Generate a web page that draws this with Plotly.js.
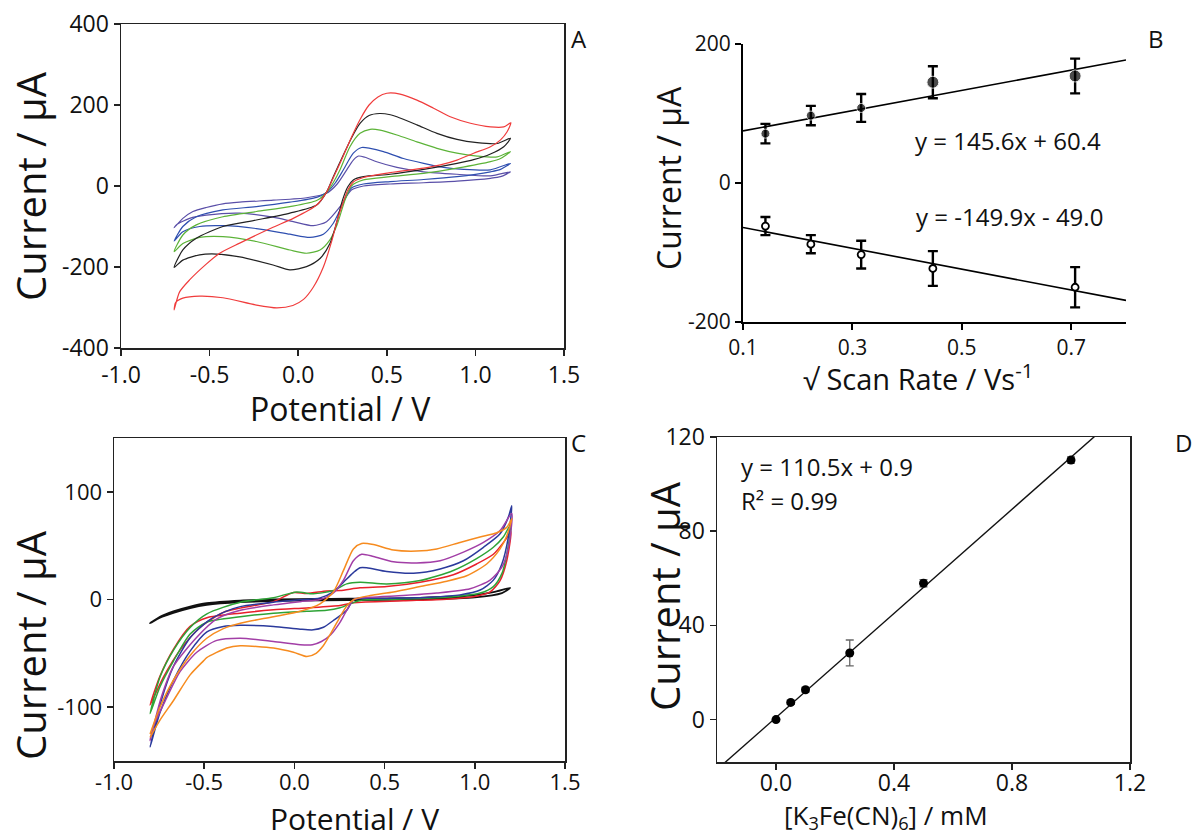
<!DOCTYPE html>
<html>
<head>
<meta charset="utf-8">
<script src="https://cdn.plot.ly/plotly-3.0.1.min.js"></script>
<style>html,body{margin:0;padding:0;background:#fff;}#chart{width:1196px;height:839px;}</style>
</head>
<body>
<div id="chart"></div>
<script>
// ---------------- Panel A: CVs at different scan rates ----------------
const aRedE = [-0.70,-0.67,-0.613,-0.519,-0.443,-0.33,-0.142,-0.028,0.104,0.16,0.20,0.25,0.30,0.35,0.40,0.45,0.50,0.575,0.67,0.764,0.858,0.972,1.085,1.16,1.20,
  1.179,1.142,1.085,0.99,0.896,0.802,0.708,0.519,0.368,0.311,0.28,0.25,0.22,0.19,0.142,0.085,0.03,-0.03,-0.12,-0.236,-0.425,-0.556,-0.651,-0.692,-0.70];
const aRedI = [-306,-262,-232,-193,-166,-141,-102,-80,-47,-15,22,70,120,165,200,220,229,227,212,192,171,155,146,146,156,
  134,114,97,81,64,52,44,33,21,10,-10,-45,-85,-135,-200,-250,-280,-295,-301,-294,-276,-272,-277,-288,-306];

const aBlackE = [-0.70,-0.651,-0.575,-0.425,-0.236,-0.047,0.104,0.16,0.20,0.25,0.30,0.35,0.40,0.46,0.52,0.557,0.67,0.783,0.896,1.01,1.123,1.198,
  1.16,1.085,0.99,0.896,0.708,0.519,0.368,0.311,0.28,0.25,0.217,0.179,0.123,0.047,-0.047,-0.142,-0.33,-0.462,-0.556,-0.651,-0.70];
const aBlackI = [-201,-158,-129,-100,-84,-67,-47,-15,25,72,118,155,174,179,176,171,151,130,115,107,105,118,
  97,79,65,56,41,29,23,15,-2,-35,-90,-142,-179,-199,-207,-195,-175,-168,-170,-183,-201];

const aGreenE = [-0.70,-0.651,-0.575,-0.425,-0.236,-0.047,0.104,0.16,0.20,0.236,0.292,0.349,0.406,0.462,0.557,0.67,0.783,0.896,1.01,1.123,1.198,
  1.142,1.085,0.896,0.708,0.519,0.368,0.30,0.26,0.22,0.179,0.123,0.047,-0.047,-0.236,-0.425,-0.556,-0.651,-0.70];
const aGreenI = [-162,-121,-96,-76,-63,-51,-36,-16,10,40,97,130,140,138,126,109,93,81,74,72,85,
  68,60,44,31,23,15,0,-40,-95,-133,-158,-166,-158,-137,-125,-127,-142,-162];

const aBlueE = [-0.70,-0.651,-0.575,-0.425,-0.236,-0.047,0.104,0.16,0.21,0.255,0.311,0.358,0.406,0.481,0.594,0.708,0.821,0.934,1.085,1.198,
  1.142,1.085,0.896,0.708,0.519,0.368,0.30,0.26,0.236,0.198,0.142,0.066,-0.047,-0.236,-0.425,-0.556,-0.651,-0.70];
const aBlueI = [-136,-100,-76,-59,-51,-40,-28,-16,8,40,81,95,93,85,68,56,46,41,40,56,
  41,35,23,16,11,5,-5,-35,-59,-92,-119,-127,-119,-105,-98,-100,-113,-136];

const aPurpleE = [-0.70,-0.651,-0.594,-0.519,-0.425,-0.33,-0.14,0.047,0.16,0.22,0.274,0.311,0.340,0.377,0.443,0.557,0.708,0.896,1.085,1.198,
  1.142,1.085,0.896,0.708,0.519,0.368,0.30,0.236,0.16,0.085,-0.028,-0.142,-0.33,-0.519,-0.613,-0.688,-0.70];
const aPurpleI = [-103,-80,-63,-53,-44,-40,-35,-29,-18,5,40,64,74,71,60,46,35,29,25,35,
  23,19,12,8,5,0,-10,-51,-88,-98,-88,-77,-67,-72,-80,-96,-103];

// ---------------- Panel B: peak current vs sqrt(scan rate) ----------------
const bSqrtRate = [0.141, 0.224, 0.316, 0.447, 0.707];
const bAnodic = [71, 97, 108, 145, 154];
const bAnodicErr = [14, 14, 20, 23, 25];
const bCathodic = [-62, -88, -103, -123, -150];
const bCathodicErr = [13, 13, 20, 25, 29];
const bFitX = [0.1, 0.8];
const bFitAnodic = [75.0, 176.9];      // y = 145.6x + 60.4
const bFitCathodic = [-64.0, -168.9];  // y = -149.9x - 49.0

// ---------------- Panel C: CVs at different concentrations ----------------
const cBlackE = [-0.80,-0.745,-0.671,-0.578,-0.486,-0.30,-0.116,0.142,0.697,0.974,1.103,1.196,
  1.15,1.0,0.7,0.3,0.0,-0.30,-0.486,-0.578,-0.671,-0.745,-0.80];
const cBlackI = [-22,-16,-11,-6.5,-3.4,-1,0,0.6,1.5,3.7,6.8,10.8,
  6,2,0.2,-0.5,-1,-2.5,-5,-8,-12.5,-17,-22];

const cGreenE = [-0.80,-0.745,-0.67,-0.578,-0.485,-0.30,-0.116,0.013,0.105,0.216,0.29,0.364,0.512,0.697,0.881,1.01,1.103,1.158,1.20,
  1.177,1.15,1.103,1.03,0.881,0.697,0.512,0.364,0.253,0.179,0.069,-0.116,-0.30,-0.485,-0.578,-0.67,-0.745,-0.80];
const cGreenI = [-106,-72,-47,-26,-13.3,-2.5,1.7,7,5.3,8.3,14.5,16,14.5,17.6,27,38,48.5,58,70,
  42,24,12,6,2.5,0.9,0,-1,-7.7,-10,-10.9,-12.7,-16,-21,-32,-57,-81,-106];

const cRedE = [-0.80,-0.726,-0.634,-0.523,-0.394,-0.30,-0.116,-0.005,0.069,0.179,0.253,0.364,0.512,0.697,0.881,1.01,1.103,1.168,1.20,
  1.177,1.14,1.085,0.992,0.844,0.604,0.327,0.253,0.069,-0.116,-0.30,-0.485,-0.578,-0.67,-0.745,-0.80];
const cRedI = [-98,-72,-47,-26,-12,-8,-2,6.5,5.6,8,8.3,10.8,12,16,23,33,42,55,63,
  36,17.6,7,2.5,0.3,-1.2,-3,-5.6,-7.8,-9.6,-12.7,-17,-25,-46,-71,-98];

const cBlueE = [-0.80,-0.74,-0.67,-0.58,-0.48,-0.38,-0.30,-0.116,0.032,0.142,0.216,0.272,0.327,0.364,0.401,0.512,0.66,0.808,0.937,1.048,1.14,1.186,1.205,
  1.186,1.15,1.103,1.03,0.918,0.752,0.512,0.33,0.29,0.216,0.161,0.105,0.032,-0.116,-0.30,-0.394,-0.485,-0.578,-0.67,-0.745,-0.80];
const cBlueI = [-137,-95,-62,-36,-20,-11,-6.6,-2.5,-0.3,1.5,7,16,25,29.5,29.5,26,24.4,28.4,36,48.5,61,76.5,87,
  58,33,18,8.8,4.3,2.2,1,0,-10,-19.5,-25.8,-28.2,-27.6,-25,-24,-25,-30,-48,-75,-105,-137];

const cMagentaE = [-0.80,-0.74,-0.67,-0.541,-0.43,-0.30,-0.116,0.032,0.142,0.216,0.272,0.327,0.373,0.438,0.549,0.678,0.808,0.937,1.048,1.14,1.205,
  1.186,1.15,1.085,0.974,0.789,0.604,0.42,0.33,0.29,0.25,0.20,0.15,0.10,0.032,-0.116,-0.30,-0.43,-0.541,-0.634,-0.707,-0.782,-0.80];
const cMagentaI = [-131,-92,-62,-35,-18,-10,-5,-2,0,6,18,36,42,40,35,34,36,44,53,64,80,
  48,30,18,10,6,3.7,2,0,-10,-22,-33,-39,-42,-42,-39,-36,-38,-49,-67,-91,-118,-131];

const cOrangeE = [-0.80,-0.745,-0.671,-0.578,-0.486,-0.394,-0.30,-0.116,0.032,0.142,0.216,0.272,0.327,0.373,0.438,0.549,0.678,0.789,0.918,1.029,1.122,1.177,1.205,
  1.177,1.14,1.066,0.955,0.845,0.697,0.549,0.42,0.33,0.29,0.25,0.20,0.16,0.12,0.069,-0.005,-0.116,-0.30,-0.375,-0.486,-0.504,-0.578,-0.671,-0.745,-0.80];
const cOrangeI = [-125,-100,-75,-52,-36,-27,-22,-16,-11,-4,7,27,47,52,51,46,45,47,53,58,62,67,75,
  59,47,33,22,17,12,7,3.7,0,-6,-17,-32,-43,-50,-53,-49,-45,-43,-45,-54,-57,-70,-94,-112,-128];

// ---------------- Panel D: calibration ----------------
const dConc = [0, 0.05, 0.1, 0.25, 0.5, 1.0];
const dCurrent = [0, 7.3, 12.7, 28.3, 57.9, 110.2];
const dErr = [0.5, 0.8, 1.0, 5.5, 1.5, 1.3];
const dFitX = [-0.2, 1.2];
const dFitY = [-21.2, 133.5];  // y = 110.5x + 0.9

// tick labels
const cvXTicks = [-1, -0.5, 0, 0.5, 1, 1.5];
const cvXTickText = ['-1.0', '-0.5', '0.0', '0.5', '1.0', '1.5'];
const aYTicks = [-400, -200, 0, 200, 400];
const aYTickText = ['-400', '-200', '0', '200', '400'];
const bXTicks = [0.1, 0.3, 0.5, 0.7];
const bXTickText = ['0.1', '0.3', '0.5', '0.7'];
const bYTicks = [-200, 0, 200];
const bYTickText = ['-200', '0', '200'];
const cYTicks = [-100, 0, 100];
const cYTickText = ['-100', '0', '100'];
const dXTicks = [0, 0.4, 0.8, 1.2];
const dXTickText = ['0.0', '0.4', '0.8', '1.2'];
const dYTicks = [0, 40, 80, 120];
const dYTickText = ['0', '40', '80', '120'];

// ---------------- drawing ----------------
const FONT = 'Open Sans, Noto Sans, DejaVu Sans, sans-serif';
const W = 1196, H = 839;
const px = v => v / W;
const py = v => 1 - v / H;

function cv(E, I, color, xa, ya, w) {
  return {x: E, y: I, xaxis: xa, yaxis: ya, type: 'scatter', mode: 'lines',
    line: {color: color, width: w, shape: 'spline', smoothing: 0.7}, hoverinfo: 'skip', showlegend: false};
}

const traces = [
  cv(aPurpleE, aPurpleI, '#5a4fa8', 'x', 'y', 1.2),
  cv(aBlueE, aBlueI, '#2f4fb0', 'x', 'y', 1.2),
  cv(aGreenE, aGreenI, '#5cb338', 'x', 'y', 1.2),
  cv(aBlackE, aBlackI, '#222222', 'x', 'y', 1.2),
  cv(aRedE, aRedI, '#f03c3c', 'x', 'y', 1.2),

  {x: bFitX, y: bFitAnodic, xaxis: 'x2', yaxis: 'y2', mode: 'lines', line: {color: '#000', width: 1.6}, showlegend: false},
  {x: bFitX, y: bFitCathodic, xaxis: 'x2', yaxis: 'y2', mode: 'lines', line: {color: '#000', width: 1.6}, showlegend: false},
  {x: bSqrtRate, y: bAnodic, xaxis: 'x2', yaxis: 'y2', mode: 'markers',
    marker: {color: '#000', size: [9, 9, 9, 12, 12], symbol: 'circle'},
    error_y: {type: 'data', array: bAnodicErr, visible: true, color: '#000', thickness: 2.4, width: 5}, showlegend: false},
  {x: bSqrtRate, y: bCathodic, xaxis: 'x2', yaxis: 'y2', mode: 'markers',
    marker: {color: '#fff', size: 7, symbol: 'circle', line: {color: '#000', width: 1.8}},
    error_y: {type: 'data', array: bCathodicErr, visible: true, color: '#000', thickness: 2.4, width: 5}, showlegend: false},

  cv(cBlackE, cBlackI, '#111111', 'x3', 'y3', 1.8),
  cv(cRedE, cRedI, '#e8202a', 'x3', 'y3', 1.5),
  cv(cGreenE, cGreenI, '#2ea336', 'x3', 'y3', 1.5),
  cv(cBlueE, cBlueI, '#2b3a9c', 'x3', 'y3', 1.5),
  cv(cMagentaE, cMagentaI, '#a23ea6', 'x3', 'y3', 1.5),
  cv(cOrangeE, cOrangeI, '#f68b1f', 'x3', 'y3', 1.5),

  {x: dFitX, y: dFitY, xaxis: 'x4', yaxis: 'y4', mode: 'lines', line: {color: '#111', width: 1.4}, showlegend: false},
  {x: dConc, y: dCurrent, xaxis: 'x4', yaxis: 'y4', mode: 'markers',
    marker: {color: '#000', size: 9, symbol: 'circle'},
    error_y: {type: 'data', array: dErr, visible: true, color: '#666', thickness: 1.3, width: 4}, showlegend: false}
];

function axis(o) {
  return Object.assign({showgrid: false, zeroline: false, showline: true, linecolor: '#222', linewidth: 1.5,
    ticks: 'outside', ticklen: 6, tickwidth: 1.5, tickcolor: '#222', tickmode: 'array',
    tickfont: {family: FONT, size: 23, color: '#111'}, fixedrange: true}, o);
}

const layout = {
  width: W, height: H, margin: {l: 0, r: 0, t: 0, b: 0}, paper_bgcolor: '#fff', plot_bgcolor: '#fff',
  showlegend: false, font: {family: FONT, color: '#111'},
  xaxis: axis({domain: [px(121), px(564)], range: [-1, 1.5], anchor: 'y', mirror: true, tickvals: cvXTicks, ticktext: cvXTickText}),
  yaxis: axis({domain: [py(348), py(24)], range: [-400, 400], anchor: 'x', mirror: true, tickvals: aYTicks, ticktext: aYTickText}),
  xaxis2: axis({domain: [px(743), px(1126)], range: [0.1, 0.8], anchor: 'y2', linewidth: 2, tickwidth: 2, linecolor: '#000', tickcolor: '#000',
    tickvals: bXTicks, ticktext: bXTickText, tickfont: {family: FONT, size: 21, color: '#111'}}),
  yaxis2: axis({domain: [py(322), py(44)], range: [-200, 200], anchor: 'x2', linewidth: 2, tickwidth: 2, linecolor: '#000', tickcolor: '#000',
    tickvals: bYTicks, ticktext: bYTickText, tickfont: {family: FONT, size: 21, color: '#111'}}),
  xaxis3: axis({domain: [px(114), px(565)], range: [-1, 1.5], anchor: 'y3', mirror: true, tickvals: cvXTicks, ticktext: cvXTickText,
    tickfont: {family: FONT, size: 22, color: '#111'}, ticklabelstandoff: -5}),
  yaxis3: axis({domain: [py(761), py(438)], range: [-150, 150], anchor: 'x3', mirror: true, tickvals: cYTicks, ticktext: cYTickText,
    tickfont: {family: FONT, size: 22, color: '#111'}}),
  xaxis4: axis({domain: [px(717), px(1130)], range: [-0.2, 1.2], anchor: 'y4', mirror: true, tickvals: dXTicks, ticktext: dXTickText,
    ticklabelstandoff: -6}),
  yaxis4: axis({domain: [py(762), py(437)], range: [-18, 120], anchor: 'x4', mirror: true, tickvals: dYTicks, ticktext: dYTickText}),
  annotations: []
};

function label(text, x, y, size, opts) {
  return Object.assign({text: text, xref: 'paper', yref: 'paper', x: px(x), y: py(y), xanchor: 'center', yanchor: 'middle',
    showarrow: false, font: {family: FONT, size: size, color: '#111'}}, opts || {});
}

layout.annotations.push(
  // panel letters
  label('A', 579, 39, 24), label('B', 1156, 39, 24), label('C', 578, 442, 24), label('D', 1183, 442, 24),
  // axis titles
  label('Current / μA', 30, 186, 40, {textangle: -90}),
  label('Potential / V', 340, 408, 32),
  label('Current / μA', 668, 178, 32, {textangle: -90}),
  label('√ Scan Rate / Vs<sup>-1</sup>', 918, 377, 29),
  label('Current / μA', 30, 645, 40, {textangle: -90}),
  label('Potential / V', 354, 818, 30),
  label('Current / μA', 664, 596, 40, {textangle: -90}),
  label('[K<sub>3</sub>Fe(CN)<sub>6</sub>] / mM', 886, 816, 26),
  // equations
  label('y = 145.6x + 60.4', 1008, 141, 24),
  label('y = -149.9x - 49.0', 1009, 216, 24),
  label('y = 110.5x + 0.9', 739, 466, 24, {xanchor: 'left'}),
  label('R² = 0.99', 739, 500, 24, {xanchor: 'left'})
);

Plotly.newPlot('chart', traces, layout, {displayModeBar: false, staticPlot: true});
</script>
</body>
</html>
